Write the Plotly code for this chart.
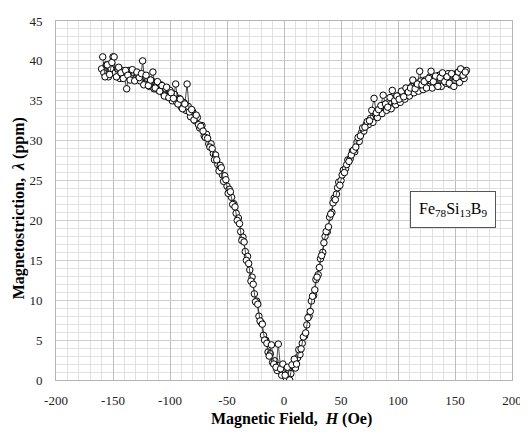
import plotly.graph_objects as go

# Sweep A (even fields)
H_a = [-160, -158, -156, -154, -152, -150, -148, -146, -144, -142,
       -140, -138, -136, -134, -132, -130, -128, -126, -124, -122,
       -120, -118, -116, -114, -112, -110, -108, -106, -104, -102,
       -100, -98, -96, -94, -92, -90, -88, -86, -84, -82,
       -80, -78, -76, -74, -72, -70, -68, -66, -64, -62,
       -60, -58, -56, -54, -52, -50, -48, -46, -44, -42,
       -40, -38, -36, -34, -32, -30, -28, -26, -24, -22,
       -20, -18, -16, -14, -12, -10, -8, -6, -4, -2,
       0, 2, 4, 6, 8, 10, 12, 14, 16, 18,
       20, 22, 24, 26, 28, 30, 32, 34, 36, 38,
       40, 42, 44, 46, 48, 50, 52, 54, 56, 58,
       60, 62, 64, 66, 68, 70, 72, 74, 76, 78,
       80, 82, 84, 86, 88, 90, 92, 94, 96, 98,
       100, 102, 104, 106, 108, 110, 112, 114, 116, 118,
       120, 122, 124, 126, 128, 130, 132, 134, 136, 138,
       140, 142, 144, 146, 148, 150, 152, 154, 156, 158,
       160]
lam_a = [39.0, 38.5, 39.5, 38.0, 39.0, 40.5, 38.5, 39.0, 37.8, 38.8,
         38.0, 36.5, 38.8, 38.0, 38.5, 37.8, 38.2, 37.5, 40.0, 37.2,
         37.8, 36.8, 37.5, 36.5, 37.2, 36.3, 37.0, 36.0, 36.5, 35.5,
         36.3, 35.0, 35.8, 34.8, 35.3, 34.2, 34.8, 33.8, 34.3, 33.0,
         33.6, 32.5, 32.9, 31.6, 31.9, 30.6, 30.8, 29.6, 29.6, 28.4,
         28.2, 27.0, 26.9, 25.7, 25.6, 24.3, 23.9, 22.9, 22.1, 20.9,
         20.3, 18.6, 17.9, 16.1, 15.5, 13.8, 12.9, 10.8, 9.9, 8.0,
         7.2, 5.6, 5.0, 3.5, 3.3, 2.2, 2.4, 1.2, 1.8, 0.6,
         1.3, 0.2, 1.2, 0.8, 1.7, 1.5, 2.8, 3.2, 4.6, 5.5,
         6.9, 8.0, 9.9, 10.6, 12.6, 13.2, 15.2, 16.0, 18.0, 18.6,
         20.4, 21.0, 22.8, 23.3, 24.8, 25.0, 26.3, 26.5, 27.6, 27.7,
         28.7, 28.6, 29.8, 29.9, 31.0, 31.2, 32.0, 32.0, 32.8, 32.3,
         33.4, 32.9, 34.0, 33.4, 34.5, 33.8, 34.8, 34.0, 35.2, 34.5,
         35.6, 34.8, 35.9, 35.2, 36.5, 35.6, 36.8, 36.0, 37.2, 36.2,
         37.5, 36.4, 37.6, 36.8, 38.0, 36.6, 37.8, 37.0, 38.2, 36.8,
         38.0, 37.2, 38.4, 37.0, 38.2, 37.5, 38.5, 37.3, 38.6, 37.8,
         38.8]

# Sweep B (odd fields)
H_b = [-159, -157, -155, -153, -151, -149, -147, -145, -143, -141,
       -139, -137, -135, -133, -131, -129, -127, -125, -123, -121,
       -119, -117, -115, -113, -111, -109, -107, -105, -103, -101,
       -99, -97, -95, -93, -91, -89, -87, -85, -83, -81,
       -79, -77, -75, -73, -71, -69, -67, -65, -63, -61,
       -59, -57, -55, -53, -51, -49, -47, -45, -43, -41,
       -39, -37, -35, -33, -31, -29, -27, -25, -23, -21,
       -19, -17, -15, -13, -11, -9, -7, -5, -3, -1,
       1, 3, 5, 7, 9, 11, 13, 15, 17, 19,
       21, 23, 25, 27, 29, 31, 33, 35, 37, 39,
       41, 43, 45, 47, 49, 51, 53, 55, 57, 59,
       61, 63, 65, 67, 69, 71, 73, 75, 77, 79,
       81, 83, 85, 87, 89, 91, 93, 95, 97, 99,
       101, 103, 105, 107, 109, 111, 113, 115, 117, 119,
       121, 123, 125, 127, 129, 131, 133, 135, 137, 139,
       141, 143, 145, 147, 149, 151, 153, 155, 157, 159]
lam_b = [40.5, 38.0, 39.5, 38.3, 39.8, 40.5, 38.0, 39.2, 38.5, 37.8,
         38.8, 38.2, 37.6, 38.9, 37.5, 38.6, 37.9, 38.4, 37.0, 38.2,
         36.9, 37.6, 38.6, 36.6, 37.4, 36.2, 36.9, 35.6, 36.7, 35.4,
         36.0, 35.3, 37.1, 34.6, 35.2, 34.0, 34.6, 37.1, 33.6, 33.9,
         32.6, 33.2, 32.0, 31.8, 31.2, 30.4, 30.3, 29.2, 29.0, 27.6,
         27.6, 26.2, 26.6, 24.9, 25.1, 23.4, 23.6, 22.0, 21.7, 20.0,
         19.6, 17.5, 17.3, 15.0, 14.6, 12.4, 12.0, 9.8, 9.5, 7.4,
         7.0, 5.0, 4.6, 3.0, 4.4, 2.0, 1.6, 4.5, 1.4, 2.0,
         0.6, 1.6, 0.0, 1.9, 2.6, 2.0, 3.8, 3.9, 5.4, 5.9,
         7.8, 8.6, 10.5, 11.3, 12.9, 14.1, 15.6, 17.2, 18.6, 19.2,
         20.8, 22.2, 22.6, 24.1, 24.4, 25.7, 26.0, 27.0, 27.4, 28.2,
         28.8, 29.2, 30.4, 30.6, 31.6, 31.7, 32.4, 32.5, 33.8, 35.3,
         33.5, 33.9, 34.4, 35.7, 34.6, 34.2, 35.4, 36.3, 35.0, 35.6,
         35.2, 36.2, 35.5, 36.6, 36.1, 36.6, 37.6, 36.5, 37.1, 38.7,
         37.0, 37.4, 36.6, 37.8, 38.7, 37.4, 38.1, 36.8, 37.9, 38.5,
         37.4, 38.0, 37.2, 38.4, 36.8, 37.9, 38.6, 39.0, 38.2, 38.6]

assert len(H_a) == len(lam_a), (len(H_a), len(lam_a))
assert len(H_b) == len(lam_b), (len(H_b), len(lam_b))

x_ticks = [-200, -150, -100, -50, 0, 50, 100, 150, 200]
x_tick_labels = ["-200", "-150", "-100", "-50", "0", "50", "100", "150", "200"]
y_ticks = [0, 5, 10, 15, 20, 25, 30, 35, 40, 45]
y_tick_labels = ["0", "5", "10", "15", "20", "25", "30", "35", "40", "45"]

FONT = "Liberation Serif, Times New Roman, serif"

marker = dict(symbol="circle", size=6.5, color="white",
              line=dict(color="black", width=1))
line = dict(color="#222222", width=0.8)

fig = go.Figure()
fig.add_trace(go.Scatter(x=H_a, y=lam_a, mode="lines+markers",
                         marker=marker, line=line, showlegend=False))
fig.add_trace(go.Scatter(x=H_b, y=lam_b, mode="lines+markers",
                         marker=marker, line=line, showlegend=False))

fig.update_layout(
    width=520, height=424,
    margin=dict(l=48, r=11, t=6, b=52),
    paper_bgcolor="white", plot_bgcolor="white",
    font=dict(family=FONT, size=13, color="#222222"),
    xaxis=dict(range=[-200, 200], tickvals=x_ticks, ticktext=x_tick_labels, ticks="",
               showgrid=True, gridcolor="#bdbdbd", gridwidth=1,
               minor=dict(dtick=10, showgrid=True, gridcolor="#e0e0e0", gridwidth=1),
               showline=True, linecolor="#b5b5b5", linewidth=1, mirror=True,
               zeroline=False, tickfont=dict(size=13, family=FONT),
               ticklabelstandoff=8, ticklabeloverflow="allow"),
    yaxis=dict(range=[0, 45], tickvals=y_ticks, ticktext=y_tick_labels, ticks="",
               showgrid=True, gridcolor="#cfcfcf", gridwidth=1,
               minor=dict(dtick=1, showgrid=True, gridcolor="#e0e0e0", gridwidth=1),
               showline=True, linecolor="#b5b5b5", linewidth=1, mirror=True,
               zeroline=False, tickfont=dict(size=13, family=FONT),
               ticklabelstandoff=10, ticklabeloverflow="allow"),
    annotations=[
        dict(text="<b>Magnetic Field,  <i>H</i> (Oe)</b>", xref="paper", yref="paper",
             x=0.516, y=-0.109, xanchor="center", yanchor="middle", showarrow=False,
             font=dict(family=FONT, size=16, color="black")),
        dict(text="<b>Magnetostriction,  <i>λ</i> (ppm)</b>", xref="paper", yref="paper",
             x=-0.082, y=0.477, xanchor="center", yanchor="middle", showarrow=False,
             textangle=-90, font=dict(family=FONT, size=16, color="black")),
        dict(text="Fe<sub>78</sub>Si<sub>13</sub>B<sub>9</sub>", xref="paper", yref="paper",
             x=(457.5 - 56) / 461, y=(380 - 206.5) / 366, xanchor="center", yanchor="middle",
             showarrow=False, bgcolor="white", bordercolor="#555555", borderwidth=1,
             borderpad=8, font=dict(family=FONT, size=16, color="black")),
    ],
)

fig.write_html("out.html")
